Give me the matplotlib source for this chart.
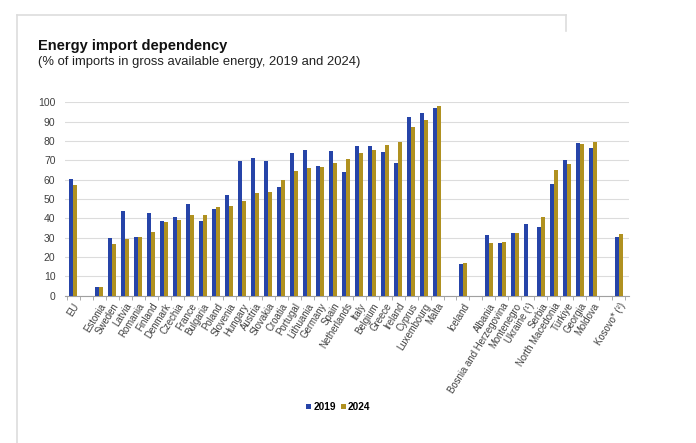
import numpy as np
import matplotlib
matplotlib.use("Agg")
import matplotlib.pyplot as plt
from matplotlib.lines import Line2D

plt.rcParams['font.family'] = ['Liberation Sans', 'DejaVu Sans']

# categories ("" = empty gap slot)
countries = ["EU", "", "Estonia", "Sweden", "Latvia", "Romania", "Finland", "Denmark",
             "Czechia", "France", "Bulgaria", "Poland", "Slovenia", "Hungary", "Austria",
             "Slovakia", "Croatia", "Portugal", "Lithuania", "Germany", "Spain",
             "Netherlands", "Italy", "Belgium", "Greece", "Ireland", "Cyprus",
             "Luxembourg", "Malta", "", "Iceland", "", "Albania",
             "Bosnia and Herzegovina", "Montenegro", "Ukraine (\u00b9)", "Serbia",
             "North Macedonia", "T\u00fcrkiye", "Georgia", "Moldova", "", "Kosovo* (\u00b2)"]

v2019 = [60.3, None, 4.7, 30.0, 43.8, 30.1, 42.8, 38.8, 40.7, 47.4, 38.4, 45.0, 51.9,
         69.7, 71.4, 69.7, 56.0, 73.8, 75.2, 66.9, 74.8, 64.1, 77.2, 77.2, 74.1, 68.6,
         92.6, 94.7, 97.2, None, 16.2, None, 31.4, 27.4, 32.6, 36.9, 35.7, 57.9, 70.0,
         79.1, 76.6, None, 30.5]
v2024 = [57.2, None, 4.3, 26.5, 29.3, 30.2, 32.8, 38.1, 39.3, 41.6, 41.9, 45.7, 46.4,
         48.8, 53.3, 53.4, 60.0, 64.5, 65.9, 66.6, 68.6, 70.5, 73.6, 75.2, 77.8, 79.3,
         87.4, 90.9, 98.3, None, 16.9, None, 27.1, 27.8, 32.2, None, 40.7, 64.8, 67.9,
         78.4, 79.3, None, 32.1]

years = ["2019", "2024"]
blue = "#2644a8"
gold = "#b09120"

x = np.arange(len(countries))
a = np.array([np.nan if v is None else v for v in v2019])
b = np.array([np.nan if v is None else v for v in v2024])

fig = plt.figure(figsize=(6.96, 4.43), dpi=100)
ax = fig.add_axes([0.0937, 0.3325, 0.8106, 0.4366])

w = 0.33
ax.bar(x - 0.18, a, w, color=blue, label=years[0], zorder=3)
ax.bar(x + 0.18, b, w, color=gold, label=years[1], zorder=3)

ax.set_xlim(-0.6, 42.8)
ax.set_ylim(0, 100)
ax.set_yticks(range(0, 101, 10))
ax.yaxis.grid(True, color="#dcdcdc", linewidth=0.8, zorder=0)
for s in ["top", "right", "left"]:
    ax.spines[s].set_visible(False)
ax.spines["bottom"].set_color("#a0a0a0")
ax.tick_params(axis="y", length=0, labelsize=7.5, labelcolor="#404040", pad=7)

ax.set_xticks(x)
ax.set_xticklabels(countries, rotation=58, ha="right", rotation_mode="anchor",
                   fontsize=6.9, color="#404040")
ax.tick_params(axis="x", which="major", length=0, pad=4)
ax.set_xticks(np.arange(-0.5, len(countries), 1), minor=True)
ax.tick_params(axis="x", which="minor", length=3, color="#a0a0a0")

fig.text(0.0546, 0.888, "Energy import dependency", fontsize=10.5,
         fontweight="bold", color="#111111")
fig.text(0.0546, 0.853, "(% of imports in gross available energy, 2019 and 2024)",
         fontsize=9.4, color="#222222")

leg = fig.legend(loc="center", bbox_to_anchor=(0.486, 0.081), ncol=2, frameon=False,
                 handlelength=0.5, handleheight=0.5, handletextpad=0.2,
                 columnspacing=0.45, prop={"size": 7.3, "weight": "bold"})

# light frame around the panel
fc = "#dddddd"
fig.add_artist(Line2D([0.0245, 0.0245], [0.0, 0.966], color=fc, lw=1.2))
fig.add_artist(Line2D([0.0245, 0.813], [0.966, 0.966], color=fc, lw=1.2))
fig.add_artist(Line2D([0.813, 0.813], [0.966, 0.93], color=fc, lw=1.2))

fig.savefig("out.png", dpi=100)
